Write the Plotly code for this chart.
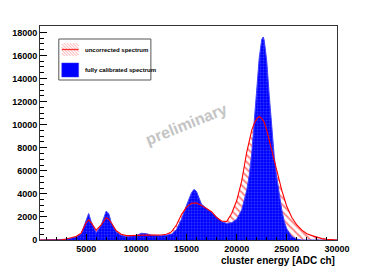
import plotly.graph_objects as go

# ---- data ----
energy = [0, 2500, 3000, 3500, 4000, 4500, 5000, 5250, 5500, 6000, 6500, 7000, 7250, 7500,
          8000, 8500, 9000, 9500, 10000, 10500, 11000, 11500, 12000, 12500, 13000, 13500,
          14000, 14500, 15000, 15500, 15750, 16000, 16500, 17000, 17500, 18000, 18500,
          19000, 19500, 20000, 20500, 21000, 21250, 21500, 21750, 22000, 22250, 22500,
          22650, 22750, 23000, 23250, 23500, 23750, 24000, 24250, 24500, 24750, 25000,
          25500, 26000, 26500, 27000, 27500, 28000, 28500, 29000, 29500, 30000]

uncorrected = [0, 0, 80, 180, 300, 600, 1500, 1750, 1500, 850, 1300, 1930, 1800, 1500,
               800, 500, 380, 380, 400, 450, 430, 420, 420, 430, 500, 700,
               1300, 2200, 2850, 3180, 3200, 3200, 3000, 2700, 2450, 1950, 1650,
               1600, 2300, 3400, 5100, 7600, 8600, 9500, 10100, 10500, 10700, 10550,
               10350, 10200, 9500, 8600, 7700, 6800, 6000, 5100, 4300, 3600, 2900,
               1950, 1300, 850, 550, 380, 220, 120, 60, 30, 0]

calibrated = [0, 0, 60, 150, 280, 500, 1800, 2300, 1600, 600, 1300, 2500, 2300, 1500,
              700, 400, 300, 320, 380, 580, 550, 420, 370, 370, 420, 500,
              900, 1800, 3000, 4100, 4390, 4200, 3100, 2700, 2380, 2000, 1600,
              1440, 1500, 1800, 2600, 4300, 5600, 7500, 10400, 13500, 15800, 17400,
              17600, 17300, 15500, 12500, 9700, 7200, 5400, 3800, 2600, 1600, 950,
              300, 80, 0, 0, 0, 0, 0, 0, 0, 0]

x_ticks = [5000, 10000, 15000, 20000, 25000, 30000]
y_ticks = [0, 2000, 4000, 6000, 8000, 10000, 12000, 14000, 16000, 18000]

legend_labels = ["uncorrected spectrum", "fully calibrated spectrum"]
x_title = "cluster energy [ADC ch]"
watermark = "preliminary"

# ---- layout geometry ----
W, H = 374, 268
L, R, T, B = 37, 337, 26, 240
PW, PH = R - L, B - T

def px2paper(px, py):
    return (px - L) / PW, (B - py) / PH

fig = go.Figure()

# red hatched fill
fig.add_trace(go.Scatter(
    x=energy, y=uncorrected, mode="lines", line=dict(width=0, color="rgba(0,0,0,0)"),
    fill="tozeroy", fillcolor="rgba(0,0,0,0)",
    fillpattern=dict(shape="\\", fgcolor="#ff0000", bgcolor="rgba(255,255,255,0)",
                     size=5, solidity=0.35),
    showlegend=False, hoverinfo="skip"))

# blue filled spectrum
fig.add_trace(go.Scatter(
    x=energy, y=calibrated, mode="lines", line=dict(width=1, color="#4040ff"),
    fill="tozeroy", fillcolor="#0000ff",
    fillpattern=dict(shape=".", fgcolor="#5a6cff", bgcolor="#0000ff", size=3, solidity=0.35),
    showlegend=False, hoverinfo="skip"))

# red line on top
fig.add_trace(go.Scatter(
    x=energy, y=uncorrected, mode="lines", line=dict(width=1.1, color="#ff0000"),
    showlegend=False, hoverinfo="skip"))

shapes = []
annotations = []

# legend box
x0, y0 = px2paper(56, 80)
x1, y1 = px2paper(149, 39)
shapes.append(dict(type="rect", xref="paper", yref="paper", x0=x0, y0=y0, x1=x1, y1=y1,
                   line=dict(color="#555555", width=1), fillcolor="white", layer="above"))
# red hatch icon
ix0, ix1, iy0, iy1 = 59, 76, 43, 56
for d in range(-13, 18, 3):
    ax, ay = ix0 + d, iy0
    bx, by = ix0 + d + (iy1 - iy0), iy1
    if ax < ix0:
        ay = ay + (ix0 - ax); ax = ix0
    if bx > ix1:
        by = by - (bx - ix1); bx = ix1
    if ax >= bx:
        continue
    p0 = px2paper(ax, ay); p1 = px2paper(bx, by)
    shapes.append(dict(type="line", xref="paper", yref="paper", x0=p0[0], y0=p0[1],
                       x1=p1[0], y1=p1[1], line=dict(color="rgba(255,80,80,0.6)", width=0.8),
                       layer="above"))
p0 = px2paper(ix0, 49.5); p1 = px2paper(ix1, 49.5)
shapes.append(dict(type="line", xref="paper", yref="paper", x0=p0[0], y0=p0[1], x1=p1[0], y1=p1[1],
                   line=dict(color="#ff3030", width=1.3), layer="above"))
# blue icon
b0 = px2paper(59, 77); b1 = px2paper(76, 63)
shapes.append(dict(type="rect", xref="paper", yref="paper", x0=b0[0], y0=b0[1], x1=b1[0], y1=b1[1],
                   line=dict(color="#3030ff", width=0.5), fillcolor="#0000ff", layer="above"))

for lab, py in zip(legend_labels, [50, 70]):
    ax_, ay_ = px2paper(80, py)
    annotations.append(dict(text=lab, xref="paper", yref="paper", x=ax_, y=ay_,
                            xanchor="left", yanchor="middle", showarrow=False,
                            font=dict(family="Liberation Sans", size=6, color="black", weight="bold")))

# watermark
wx, wy = px2paper(184, 124)
annotations.append(dict(text=watermark, xref="paper", yref="paper", x=wx, y=wy,
                        showarrow=False, textangle=-22,
                        font=dict(family="Liberation Sans", size=16, color="#c4c4c4", weight="bold")))

# x title
tx, ty = px2paper(337, 260.5)
annotations.append(dict(text=x_title, xref="paper", yref="paper", x=tx, y=ty,
                        xanchor="right", yanchor="middle", showarrow=False,
                        font=dict(family="Liberation Sans", size=10, color="black", weight="bold")))

tickfont = dict(family="Liberation Sans", size=9, color="black", weight="bold")

fig.update_layout(
    width=W, height=H,
    margin=dict(l=L, r=W - R, t=T, b=H - B, pad=0),
    paper_bgcolor="white", plot_bgcolor="white",
    shapes=shapes, annotations=annotations,
    xaxis=dict(range=[400, 30000], tickvals=x_ticks, ticktext=[str(v) for v in x_ticks],
               ticks="inside", ticklen=6, tickcolor="black", tickwidth=1,
               minor=dict(ticks="inside", ticklen=3, dtick=1000, tickcolor="black"),
               showline=True, linecolor="#333333", linewidth=1, mirror=True,
               showgrid=False, zeroline=False, tickfont=tickfont),
    yaxis=dict(range=[0, 18550], tickvals=y_ticks, ticktext=[str(v) for v in y_ticks],
               ticks="inside", ticklen=7, tickcolor="black", tickwidth=1,
               minor=dict(ticks="inside", ticklen=3.5, dtick=500, tickcolor="black"),
               showline=True, linecolor="#333333", linewidth=1, mirror=True,
               showgrid=False, zeroline=False, tickfont=tickfont),
)

fig.write_html("out.html", config={"displayModeBar": False},
               post_script="document.body.style.margin='0';document.body.style.padding='0';")
